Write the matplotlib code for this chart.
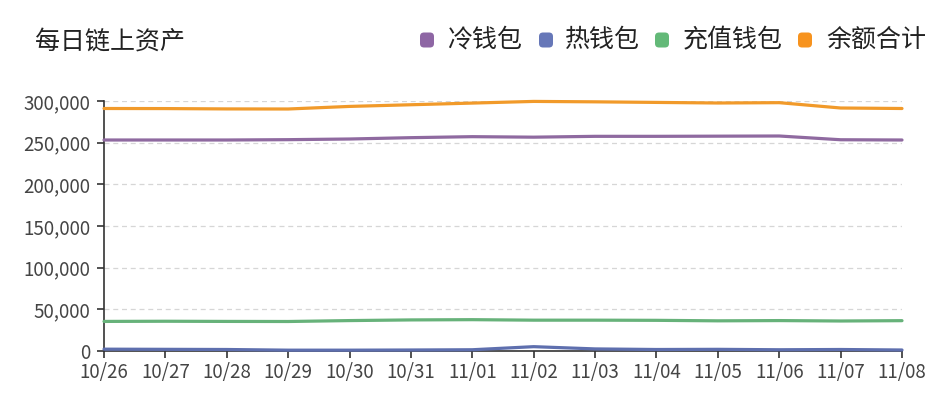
import matplotlib
matplotlib.use("Agg")
import matplotlib.pyplot as plt
from matplotlib.patches import FancyBboxPatch
from matplotlib.transforms import IdentityTransform
from matplotlib.ticker import FuncFormatter, MultipleLocator

plt.rcParams['font.family'] = ['Noto Sans CJK SC', 'DejaVu Sans']

dates = ['10/26', '10/27', '10/28', '10/29', '10/30', '10/31', '11/01',
         '11/02', '11/03', '11/04', '11/05', '11/06', '11/07', '11/08']
cold = [253200, 253200, 253200, 253600, 254400, 256000, 257200,
        256600, 257600, 257600, 257800, 258000, 253500, 253200]
hot = [2200, 2000, 1800, 1000, 1000, 1200, 1500,
       5200, 2500, 1800, 2000, 1500, 1800, 1200]
deposit = [35500, 35700, 35500, 35400, 36500, 37300, 37600,
           37000, 37000, 36800, 36200, 36500, 36000, 36400]
total = [291000, 290900, 290500, 290400, 293500, 295500, 297500,
         299500, 299000, 298300, 297600, 298000, 291600, 291000]

series_names = ['冷钱包', '热钱包', '充值钱包', '余额合计']
line_colors = ['#8f6aa0', '#5e6fae', '#67b27a', '#f19a2a']
marker_colors = ['#8e66a4', '#6677b8', '#63b978', '#f7931e']

W, H = 942, 400
fig = plt.figure(figsize=(W / 100, H / 100), dpi=100)
ax = fig.add_axes([104 / W, 1 - 351 / H, (902 - 104) / W, (351 - 101) / H])

x = list(range(len(dates)))
for vals, c in zip([cold, hot, deposit, total], line_colors):
    ax.plot(x, vals, color=c, lw=2.3, solid_joinstyle='round',
            solid_capstyle='round', clip_on=False, zorder=3)

ax.set_xlim(0, len(dates) - 1)
ax.set_ylim(0, 300000)
ax.yaxis.set_major_locator(MultipleLocator(50000))
ax.yaxis.set_major_formatter(FuncFormatter(lambda v, p: f"{int(v):,}"))
ax.set_xticks(x)
ax.set_xticklabels(dates)

for s in ['top', 'right']:
    ax.spines[s].set_visible(False)
for s in ['left', 'bottom']:
    ax.spines[s].set_color('#333333')
    ax.spines[s].set_linewidth(1.2)

ax.tick_params(axis='both', colors='#333333', labelcolor='#444444',
               labelsize=13.5, length=5, width=1.2, direction='out')
ax.tick_params(axis='y', pad=5)
ax.tick_params(axis='x', pad=3)

for v in range(50000, 300001, 50000):
    ax.axhline(v, color='#d6d6d6', lw=0.9, ls=(0, (4, 3)), zorder=1)

fig.text(35 / W, 1 - 42 / H, '每日链上资产', fontsize=18, color='#222222',
         ha='left', va='center')

label_x = [447, 565, 683, 826]
marker_x = [420, 539, 655, 798]
ly = 40
for name, c, lx, mx in zip(series_names, marker_colors, label_x, marker_x):
    mw, mh = 14, 15
    p = FancyBboxPatch((mx, H - ly - mh / 2), mw, mh,
                       boxstyle="round,pad=0,rounding_size=4",
                       transform=IdentityTransform(), facecolor=c,
                       edgecolor='none')
    fig.patches.append(p)
    fig.text(lx / W, 1 - ly / H, name, fontsize=18, color='#222222',
             ha='left', va='center')

fig.savefig('out.png', dpi=100, facecolor='white')
